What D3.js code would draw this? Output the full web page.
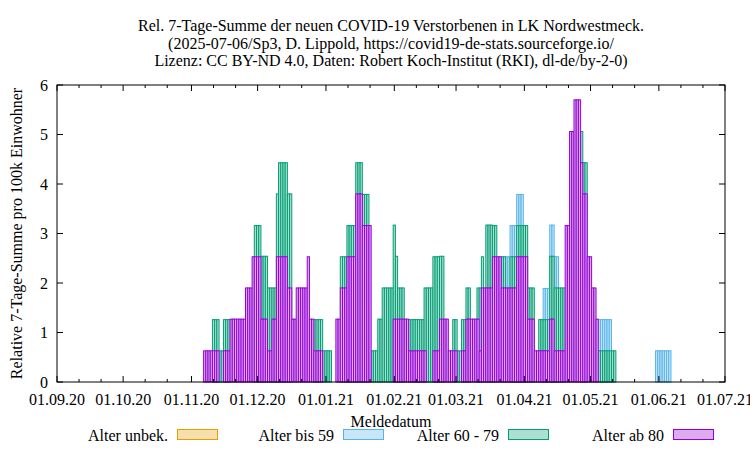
<!DOCTYPE html>
<html><head><meta charset="utf-8">
<script src="https://cdn.jsdelivr.net/npm/d3@7"></script>
<style>
body{margin:0;background:#fff}
svg{display:block}
text{font-family:"Liberation Serif","Times New Roman",serif;font-size:16px;fill:#000}
</style>
</head><body>
<svg id="chart" width="750" height="450"></svg>
<script>
const titleLines = [
  "Rel. 7-Tage-Summe der neuen COVID-19 Verstorbenen in LK Nordwestmeck.",
  "(2025-07-06/Sp3, D. Lippold, https://covid19-de-stats.sourceforge.io/",
  "Lizenz: CC BY-ND 4.0, Daten: Robert Koch-Institut (RKI), dl-de/by-2-0)"
];
const yLabel = "Relative 7-Tage-Summe pro 100k Einwohner";
const xLabel = "Meldedatum";
const seriesNames = ["Alter unbek.", "Alter bis 59", "Alter 60 - 79", "Alter ab 80"];
const seriesKeys = ["unbek", "bis59", "a6079", "ab80"];
const seriesColors = ["#e69f00", "#56b4e9", "#009e73", "#9400d3"];
const xTickLabels = ["01.09.20","01.10.20","01.11.20","01.12.20","01.01.21","01.02.21","01.03.21","01.04.21","01.05.21","01.06.21","01.07.21"];
const yTickValues = [0, 1, 2, 3, 4, 5, 6];
const firstDay = "07.11.20";

const ab80 = [
  0.63,0.63,0.63,0.63,0.63,0.63,0.63,0,0,0.63,
  0.63,0.63,1.27,1.27,1.27,1.27,1.27,1.27,1.27,1.9,
  1.9,1.9,2.53,2.53,2.53,2.53,1.27,1.27,1.27,0.63,
  0.63,1.27,1.27,2.53,2.53,2.53,2.53,2.53,1.9,1.9,
  1.27,1.27,1.9,1.9,1.9,1.9,1.9,2.53,1.27,1.27,
  0.63,0.63,0.63,0.63,0,0,0,0,0,0,
  1.27,1.27,1.9,1.9,1.9,2.53,2.53,2.53,2.53,3.8,
  3.8,3.8,3.16,3.16,3.16,3.16,0,0,0,0,
  0,0,0,0,0,0,1.27,1.27,1.27,1.27,
  1.27,1.27,1.27,0.63,0.63,0.63,0.63,0.63,0.63,0.63,
  0.63,0,0,0,0.63,0.63,0.63,1.27,1.27,1.27,
  1.27,0.63,0.63,0.63,0.63,0,0,0.63,0.63,1.27,
  1.27,1.27,1.27,1.27,1.27,0.63,1.9,1.9,1.9,1.9,
  1.9,2.53,2.53,2.53,2.53,1.9,1.9,1.9,1.9,1.9,
  1.9,1.9,2.53,2.53,2.53,2.53,2.53,1.27,1.27,1.27,
  0.63,0.63,0.63,0.63,0.63,0.63,0.63,1.27,1.27,0.63,
  0.63,0.63,0.63,0.63,3.16,3.16,5.06,5.06,5.7,5.7,
  5.7,4.43,3.8,3.8,2.53,2.53,1.9,1.9,1.27,0,
  0,0,0,0,0,0,0,0,0,0,
  0,0,0,0,0,0,0,0,0,0,
  0,0,0,0,0,0,0,0,0,0,
  0,0
];
const a6079 = [
  0,0,0,0,0.63,0.63,0.63,0.63,0.63,0.63,
  0.63,0.63,0,0,0,0,0,0,0,0,
  0,0,0,0.63,0.63,0.63,1.27,1.27,1.27,1.27,
  1.27,0.63,0.63,1.27,1.9,1.9,1.9,1.9,1.9,1.9,
  0,0,0,0,0,0,0,0,0,0,
  0.63,0.63,0.63,0.63,0.63,0.63,0.63,0.63,0,0,
  0,0,0.63,0.63,0.63,0.63,0.63,0.63,0.63,0.63,
  0.63,0.63,0.63,0.63,0.63,0,0.63,0.63,0.63,1.27,
  1.27,1.9,1.9,1.9,1.9,1.9,1.9,1.27,0.63,0.63,
  0.63,0,0,0.63,0.63,0.63,0.63,0.63,0.63,0.63,
  1.27,1.9,1.9,1.9,1.9,1.9,1.9,1.27,1.27,0,
  0,0,0,0.63,0.63,0.63,0.63,0.63,0.63,0.63,
  0.63,0,0,0,0.63,1.27,0.63,0,1.27,1.27,
  1.27,0.63,0.63,0,0,0.63,0.63,0,0,0.63,
  0.63,0.63,0.63,0.63,0.63,0.63,0.63,0.63,0.63,0.63,
  0,0,0.63,0.63,0.63,0.63,0.63,1.27,1.27,1.27,
  1.27,1.27,1.27,1.27,0,0,0,0,0,0,
  0,0.63,0.63,0.63,0,0,0,0,0,0.63,
  0.63,0.63,0.63,0.63,0.63,0.63,0.63,0,0,0,
  0,0,0,0,0,0,0,0,0,0,
  0,0,0,0,0,0,0,0,0,0,
  0,0
];
const bis59 = [
  0,0,0,0,0,0,0,0,0,0,
  0,0,0,0,0,0,0,0,0,0,
  0,0,0,0,0,0,0,0,0,0,
  0,0,0,0,0,0,0,0,0,0,
  0,0,0,0,0,0,0,0,0,0,
  0,0,0,0,0,0,0,0,0,0,
  0,0,0,0,0,0,0,0,0,0,
  0,0,0,0,0,0,0,0,0,0,
  0,0,0,0,0,0,0,0,0,0,
  0,0,0,0,0,0,0,0,0,0,
  0,0,0,0,0,0,0,0,0,0,
  0,0,0,0,0,0,0,0,0,0,
  0,0,0,0,0,0,0,0,0,0,
  0,0,0,0,0,0,0,0.63,0.63,0.63,
  0.63,0.63,0.63,0.63,0.63,0,0,0,0,0,
  0,0,0,0,0.63,0.63,0.63,0.63,0.63,0.63,
  0.63,0,0,0,0,0,0,0,0,0,
  0,0,0,0,0,0,0,0,0,0.63,
  0.63,0.63,0.63,0.63,0.63,0,0,0,0,0,
  0,0,0,0,0,0,0,0,0,0,
  0,0,0,0,0,0.63,0.63,0.63,0.63,0.63,
  0.63,0.63
];
const unbek = ab80.map(() => 0);

const parse = d3.utcParse("%d.%m.%y");
const svg = d3.select("#chart");
const L = 57, R = 725, T = 85, B = 382;

const tickDates = xTickLabels.map(parse);
const x = d3.scaleUtc().domain([tickDates[0], tickDates[tickDates.length - 1]]).range([L, R]);
const y = d3.scaleLinear().domain([0, 6]).range([B, T]);

const start = parse(firstDay);
const rows = ab80.map((v, i) => ({
  date: d3.utcDay.offset(start, i),
  ab80: v, a6079: a6079[i], bis59: bis59[i], unbek: unbek[i]
}));
const stackKeys = ["ab80", "a6079", "bis59", "unbek"];
const stacked = d3.stack().keys(stackKeys)(rows);
const dayW = x(d3.utcDay.offset(start, 1)) - x(start);

const tint = c => d3.interpolateRgb("#ffffff", c)(0.33);

// draw cumulative bars from zero, top layer first (gnuplot style)
const gBars = svg.append("g");
for (let k = stackKeys.length - 1; k >= 0; k--) {
  const key = stackKeys[k];
  const col = seriesColors[seriesKeys.indexOf(key)];
  const layer = stacked[k];
  gBars.append("g").selectAll("rect")
    .data(layer.filter(d => d[1] - d[0] > 0))
    .join("rect")
    .attr("x", d => x(d.data.date) - dayW / 2)
    .attr("width", dayW)
    .attr("y", d => y(d[1]))
    .attr("height", d => y(0) - y(d[1]))
    .attr("fill", tint(col))
    .attr("stroke", col)
    .attr("stroke-width", 1);
}

// frame
svg.append("rect").attr("x", L).attr("y", T).attr("width", R - L).attr("height", B - T)
  .attr("fill", "none").attr("stroke", "#000").attr("stroke-width", 1);

// y ticks
const gy = svg.append("g");
yTickValues.forEach(v => {
  gy.append("line").attr("x1", L).attr("x2", L + 6).attr("y1", y(v)).attr("y2", y(v)).attr("stroke", "#000");
  gy.append("line").attr("x1", R).attr("x2", R - 6).attr("y1", y(v)).attr("y2", y(v)).attr("stroke", "#000");
  gy.append("text").attr("x", L - 9).attr("y", y(v) + 5.5).attr("text-anchor", "end").text(d3.format("d")(v));
});

// x ticks
const gx = svg.append("g");
tickDates.forEach((d, i) => {
  const px = x(d);
  gx.append("line").attr("x1", px).attr("x2", px).attr("y1", B).attr("y2", B - 6).attr("stroke", "#000");
  gx.append("line").attr("x1", px).attr("x2", px).attr("y1", T).attr("y2", T + 6).attr("stroke", "#000");
  gx.append("text").attr("x", px).attr("y", 405).attr("text-anchor", "middle").text(xTickLabels[i]);
});
// minor ticks on the 11th and 21st
d3.utcMonths(tickDates[0], tickDates[tickDates.length - 1]).forEach(m => {
  [10, 20].forEach(off => {
    const px = x(d3.utcDay.offset(m, off));
    gx.append("line").attr("x1", px).attr("x2", px).attr("y1", B).attr("y2", B - 3).attr("stroke", "#000");
    gx.append("line").attr("x1", px).attr("x2", px).attr("y1", T).attr("y2", T + 3).attr("stroke", "#000");
  });
});

// titles
const cx = (L + R) / 2;
titleLines.forEach((t, i) => {
  svg.append("text").attr("x", cx).attr("y", 31 + i * 17.5).attr("text-anchor", "middle").text(t);
});
svg.append("text").attr("x", cx).attr("y", 427).attr("text-anchor", "middle").text(xLabel);
svg.append("text").attr("transform", `translate(22,${(T + B) / 2}) rotate(-90)`)
  .attr("text-anchor", "middle").text(yLabel);

// legend
const legendTextRight = [168, 334, 499, 664];
seriesNames.forEach((n, i) => {
  const tx = legendTextRight[i];
  svg.append("text").attr("x", tx).attr("y", 441).attr("text-anchor", "end").text(n);
  svg.append("rect").attr("x", tx + 9.5).attr("y", 429.5).attr("width", 40).attr("height", 10)
    .attr("fill", tint(seriesColors[i])).attr("stroke", seriesColors[i]).attr("stroke-width", 1);
});
</script>
</body></html>
